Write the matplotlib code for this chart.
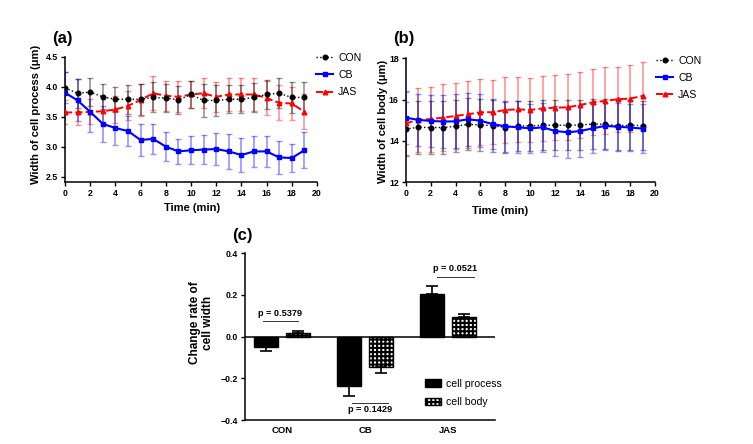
import matplotlib
matplotlib.use("Agg")
import matplotlib.pyplot as plt
import numpy as np
from matplotlib.patches import Patch

plt.rcParams['font.family'] = ['Liberation Sans', 'DejaVu Sans']
plt.rcParams['hatch.linewidth'] = 1.5

# ---------------- data ----------------
time = list(range(20))
series_names = ['CON', 'CB', 'JAS']

a_con = [3.98, 3.89, 3.91, 3.83, 3.79, 3.79, 3.79, 3.82, 3.81, 3.78,
         3.87, 3.77, 3.77, 3.79, 3.79, 3.82, 3.87, 3.89, 3.82, 3.82]
a_con_sd = [0.26, 0.24, 0.24, 0.21, 0.21, 0.24, 0.26, 0.25, 0.23, 0.23,
            0.22, 0.27, 0.26, 0.23, 0.23, 0.24, 0.24, 0.25, 0.26, 0.26]
a_cb = [3.90, 3.77, 3.58, 3.38, 3.31, 3.26, 3.11, 3.13, 3.00, 2.92,
        2.94, 2.95, 2.96, 2.92, 2.86, 2.92, 2.92, 2.82, 2.81, 2.94]
a_cb_sd = [0.35, 0.35, 0.33, 0.30, 0.29, 0.25, 0.26, 0.25, 0.24, 0.21,
           0.23, 0.24, 0.27, 0.29, 0.28, 0.26, 0.26, 0.28, 0.24, 0.30]
a_jas = [3.57, 3.57, 3.58, 3.59, 3.62, 3.68, 3.78, 3.89, 3.85, 3.83,
         3.87, 3.89, 3.83, 3.87, 3.87, 3.87, 3.81, 3.73, 3.72, 3.58]
a_jas_sd = [0.20, 0.21, 0.21, 0.22, 0.23, 0.24, 0.27, 0.28, 0.25, 0.26,
            0.22, 0.25, 0.25, 0.27, 0.28, 0.28, 0.28, 0.29, 0.28, 0.29]

b_con = [14.58, 14.66, 14.65, 14.65, 14.71, 14.81, 14.77, 14.74, 14.65, 14.73,
         14.73, 14.76, 14.76, 14.76, 14.77, 14.82, 14.81, 14.74, 14.76, 14.74]
b_con_sd = [1.30, 1.28, 1.28, 1.27, 1.25, 1.25, 1.25, 1.25, 1.22, 1.22,
            1.22, 1.20, 1.20, 1.20, 1.20, 1.22, 1.20, 1.22, 1.20, 1.20]
b_cb = [15.13, 15.02, 14.97, 14.94, 14.95, 15.05, 14.98, 14.81, 14.71, 14.66,
        14.61, 14.66, 14.48, 14.42, 14.48, 14.61, 14.73, 14.69, 14.65, 14.60]
b_cb_sd = [1.29, 1.25, 1.25, 1.28, 1.30, 1.29, 1.28, 1.22, 1.24, 1.25,
           1.18, 1.20, 1.21, 1.23, 1.25, 1.20, 1.15, 1.15, 1.15, 1.20]
b_jas = [14.85, 15.02, 15.06, 15.13, 15.21, 15.29, 15.39, 15.39, 15.50, 15.53,
         15.50, 15.58, 15.61, 15.63, 15.74, 15.87, 15.94, 16.02, 16.05, 16.18]
b_jas_sd = [1.53, 1.56, 1.57, 1.61, 1.61, 1.61, 1.59, 1.56, 1.58, 1.58,
            1.56, 1.58, 1.58, 1.60, 1.58, 1.60, 1.62, 1.58, 1.61, 1.66]

groups = ['CON', 'CB', 'JAS']
process = [-0.048, -0.239, 0.205]
process_sd = [0.022, 0.048, 0.039]
body = [0.018, -0.147, 0.093]
body_sd = [0.011, 0.028, 0.016]
p_labels = ['p = 0.5379', 'p = 0.1429', 'p = 0.0521']

# ---------------- styles ----------------
W, H = 753, 444
fig = plt.figure(figsize=(W / 100, H / 100), dpi=100)

colors = {'CON': '#000000', 'CB': '#0000ff', 'JAS': '#ff0000'}
styles = {'CON': dict(ls=':', marker='o', ms=3.3, lw=1.0),
          'CB': dict(ls='-', marker='s', ms=3.4, lw=1.5),
          'JAS': dict(ls='--', marker='^', ms=3.3, lw=1.4)}

TICK_FS = 6.3
LAB_FS = 8.0
HATCH = '++++'


def px_axes(l, t, r, b):
    return fig.add_axes([l / W, 1 - b / H, (r - l) / W, (b - t) / H])


def style_axes(ax):
    for s in ['top', 'right']:
        ax.spines[s].set_visible(False)
    for s in ['left', 'bottom']:
        ax.spines[s].set_linewidth(1.1)
    ax.tick_params(direction='out', length=3, width=1.0, labelsize=TICK_FS, pad=2)
    for lab in ax.get_xticklabels() + ax.get_yticklabels():
        lab.set_fontweight('bold')


def line_panel(ax, data, ylim, yticks, ylabel, ylab_xy, xlab_xy, leg_anchor):
    zo = {'CON': 3, 'CB': 4, 'JAS': 2}
    for name, (m, sd) in zip(series_names, data):
        c = colors[name]
        ax.errorbar(time, m, yerr=sd, fmt='none', ecolor=c, alpha=0.42,
                    elinewidth=1.2, capsize=2.2, capthick=1.0, zorder=zo[name])
        ax.plot(time, m, color=c, label=name, zorder=zo[name] + 5, **styles[name])
    ax.set_xlim(0, 20)
    ax.set_ylim(*ylim)
    ax.set_xticks(range(0, 21, 2))
    ax.set_yticks(yticks)
    style_axes(ax)
    ax.set_xlabel('Time (min)', fontsize=LAB_FS, fontweight='bold')
    ax.xaxis.set_label_coords(*xlab_xy)
    ax.set_ylabel(ylabel, fontsize=LAB_FS, fontweight='bold')
    ax.yaxis.set_label_coords(*ylab_xy)
    ax.legend(loc='upper left', bbox_to_anchor=(leg_anchor[0] / W, 1 - leg_anchor[1] / H),
              bbox_transform=fig.transFigure, frameon=False, fontsize=7.6,
              handlelength=1.65, handletextpad=0.45, labelspacing=0.68,
              borderpad=0, borderaxespad=0)


# ---------------- panel (a) ----------------
axa = px_axes(65, 56.7, 317, 182)
line_panel(axa, [(a_con, a_con_sd), (a_cb, a_cb_sd), (a_jas, a_jas_sd)],
           (2.41, 4.5), [2.5, 3.0, 3.5, 4.0, 4.5], 'Width of cell process (\u03bcm)',
           (-0.097, 0.54), (0.504, -0.168), (316, 53))
axa.yaxis.set_major_formatter(matplotlib.ticker.FormatStrFormatter('%.1f'))
for lab in axa.get_yticklabels():
    lab.set_fontweight('bold')
fig.text(52 / W, 1 - 38.5 / H, '(a)', fontsize=12, fontweight='bold', va='center', ha='left')

# ---------------- panel (b) ----------------
axb = px_axes(405.7, 58.3, 655, 182.3)
line_panel(axb, [(b_con, b_con_sd), (b_cb, b_cb_sd), (b_jas, b_jas_sd)],
           (12, 18), [12, 14, 16, 18], 'Width of cell body (\u03bcm)',
           (-0.072, 0.49), (0.378, -0.195), (656, 55.5))
fig.text(393 / W, 1 - 38.5 / H, '(b)', fontsize=12, fontweight='bold', va='center', ha='left')

# ---------------- panel (c) ----------------
axc = px_axes(245, 253.3, 495, 420)
x = np.arange(len(groups))
off, bw = 0.195, 0.283
axc.bar(x - off, process, bw, color='black', edgecolor='black', lw=1.0,
        label='cell process', zorder=2)
axc.bar(x + off, body, bw, color='white', edgecolor='black', hatch=HATCH, lw=1.0,
        zorder=2)
for xi, v, s in zip(x - off, process, process_sd):
    axc.errorbar(xi, v, yerr=[[s if v < 0 else 0], [s if v > 0 else 0]], fmt='none',
                 ecolor='black', elinewidth=1.2, capsize=4.5, capthick=1.2, zorder=3)
for xi, v, s in zip(x + off, body, body_sd):
    axc.errorbar(xi, v, yerr=[[s if v < 0 else 0], [s if v > 0 else 0]], fmt='none',
                 ecolor='black', elinewidth=1.2, capsize=4.5, capthick=1.2, zorder=3)
axc.axhline(0, color='black', lw=1.1, zorder=4)
axc.set_xlim(-0.446, 2.566)
axc.set_ylim(-0.4, 0.4)
axc.set_yticks([-0.4, -0.2, 0.0, 0.2, 0.4])
axc.set_xticks(x)
axc.set_xticklabels(groups)
style_axes(axc)
axc.tick_params(axis='x', length=0, pad=4, labelsize=6.8)
for lab in axc.get_xticklabels() + axc.get_yticklabels():
    lab.set_fontweight('bold')

# p-value annotations (line x-extents relative to group, line y, text y)
p_line_x = [(-0.233, 0.189), (-0.153, 0.28), (-0.133, 0.313)]
p_line_y = [0.077, -0.317, 0.286]
p_text_y = [0.112, -0.350, 0.325]
for xi, lab, (x0, x1), ly, ty in zip(x, p_labels, p_line_x, p_line_y, p_text_y):
    axc.plot([xi + x0, xi + x1], [ly, ly], color='#333333', lw=0.7)
    axc.text(xi + (x0 + x1) / 2, ty, lab, ha='center', va='center',
             fontsize=6.6, fontweight='bold')

axc.set_ylabel('Change rate of\ncell width', fontsize=8.5, fontweight='bold',
               linespacing=1.1)
axc.yaxis.set_label_coords(-0.125, 0.585)
handles = [Patch(facecolor='black', edgecolor='black'),
           Patch(facecolor='white', edgecolor='black', hatch=HATCH, lw=1.0)]
axc.legend(handles, ['cell process', 'cell body'], loc='upper left',
           bbox_to_anchor=(425 / W, 1 - 378.5 / H), bbox_transform=fig.transFigure,
           frameon=False, fontsize=7.6, handlelength=1.5, handleheight=0.7,
           handletextpad=0.5, labelspacing=0.85, borderpad=0, borderaxespad=0)
fig.text(232 / W, 1 - 235 / H, '(c)', fontsize=12, fontweight='bold', va='center', ha='left')

fig.savefig('out.png', dpi=100)
